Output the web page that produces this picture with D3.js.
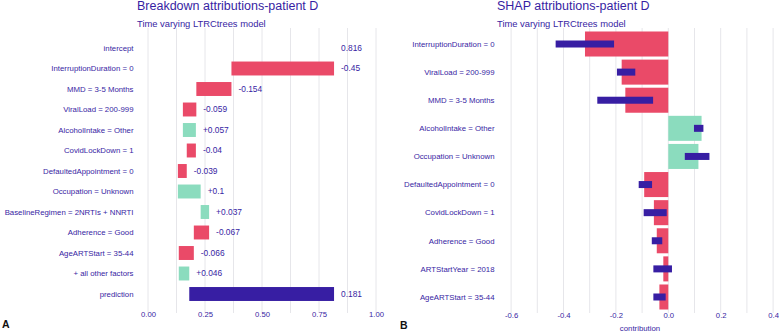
<!DOCTYPE html>
<html>
<head>
<meta charset="utf-8">
<script src="https://cdn.jsdelivr.net/npm/d3@7"></script>
<style>
  body { margin: 0; background: #fff; }
  text { font-family: "Liberation Sans", Arial, Helvetica, sans-serif; }
</style>
</head>
<body>
<div id="chart"></div>
<script>
(function() {
    let w = 779, h = 332

    // Breakdown panel (A)
    let bdLabels = ["intercept", "InterruptionDuration = 0", "MMD = 3-5 Months", "ViralLoad = 200-999",
        "AlcoholIntake = Other", "CovidLockDown = 1", "DefaultedAppointment = 0", "Occupation = Unknown",
        "BaselineRegimen = 2NRTIs + NNRTI", "Adherence = Good", "AgeARTStart = 35-44",
        "+ all other factors", "prediction"]
    let bdValues = [0.816, -0.45, -0.154, -0.059, 0.057, -0.04, -0.039, 0.1, 0.037, -0.067, -0.066, 0.046]
    let bdTicks = [0, 0.25, 0.5, 0.75, 1]

    // SHAP panel (B)
    let shapLabels = ["InterruptionDuration = 0", "ViralLoad = 200-999", "MMD = 3-5 Months",
        "AlcoholIntake = Other", "Occupation = Unknown", "DefaultedAppointment = 0", "CovidLockDown = 1",
        "Adherence = Good", "ARTStartYear = 2018", "AgeARTStart = 35-44"]
    let shapMean = [-0.318, -0.178, -0.164, 0.127, 0.115, -0.092, -0.055, -0.044, -0.019, -0.034]
    let shapBoxLow = [-0.43, -0.196, -0.271, 0.098, 0.063, -0.113, -0.094, -0.063, -0.057, -0.057]
    let shapBoxHigh = [-0.207, -0.126, -0.058, 0.134, 0.157, -0.062, -0.006, -0.023, 0.014, -0.01]
    let shapTicks = [-0.6, -0.4, -0.2, 0, 0.2, 0.4]

    let purple = "#371ea3", red = "#ea4a68", green = "#8bdcbe", grid = "#e6e6ea"

    let loc = d3.formatLocale({decimal: ".", thousands: ",", grouping: [3], currency: ["", ""], minus: "-"})
    let fmtSigned = loc.format("+.3~f")
    let fmtPlain = loc.format(".3~f")

    let svg = d3.select("#chart")
                .append("svg")
                .attr("width", w)
                .attr("height", h)

    svg.append("rect").attr("width", w).attr("height", h).attr("fill", "#fff")

    // ---------- panel A ----------
    let xA = d3.scaleLinear().domain([0, 1]).range([148, 376])
    let yA = d3.scaleBand().domain(bdLabels).range([37.75, 304.25]).paddingInner(0.32).paddingOuter(0.16)

    // build waterfall rows from the values
    let cum = bdValues[0]
    let rowsA = [{label: bdLabels[0], start: cum, end: cum, kind: "intercept", text: fmtPlain(cum)}]
    bdValues.slice(1).forEach((v, i) => {
        rowsA.push({label: bdLabels[i + 1], start: cum, end: cum + v,
                    kind: v < 0 ? "neg" : "pos", text: fmtSigned(v)})
        cum += v
    })
    rowsA.push({label: "prediction", start: bdValues[0], end: cum, kind: "pred", text: fmtPlain(cum)})

    let gA = svg.append("g")

    gA.selectAll("line.grid")
      .data(d3.range(0, 1.0001, 0.125))
      .enter()
      .append("line")
      .attr("class", "grid")
      .attr("x1", d => xA(d)).attr("x2", d => xA(d))
      .attr("y1", 28).attr("y2", 313)
      .attr("stroke", grid).attr("stroke-width", 1)

    gA.selectAll("rect.bar")
      .data(rowsA.filter(d => d.kind != "intercept"))
      .enter()
      .append("rect")
      .attr("class", "bar")
      .attr("x", d => xA(Math.min(d.start, d.end)))
      .attr("width", d => Math.abs(xA(d.end) - xA(d.start)))
      .attr("y", d => yA(d.label))
      .attr("height", yA.bandwidth())
      .attr("fill", d => d.kind == "pred" ? purple : d.kind == "neg" ? red : green)

    gA.selectAll("text.val")
      .data(rowsA)
      .enter()
      .append("text")
      .attr("class", "val")
      .text(d => d.text)
      .attr("x", d => xA(Math.max(d.start, d.end)) + 7)
      .attr("y", d => yA(d.label) + yA.bandwidth() / 2)
      .attr("dy", "0.35em")
      .attr("font-size", 8.4)
      .attr("fill", purple)

    gA.selectAll("text.lab")
      .data(bdLabels)
      .enter()
      .append("text")
      .attr("class", "lab")
      .text(d => d)
      .attr("x", 133.5)
      .attr("y", d => yA(d) + yA.bandwidth() / 2)
      .attr("dy", "0.35em")
      .attr("text-anchor", "end")
      .attr("font-size", 7.8)
      .attr("fill", purple)

    let axA = gA.append("g")
      .attr("transform", "translate(0,312)")
      .call(d3.axisBottom(xA).tickValues(bdTicks).tickFormat(d3.format(".2f")).tickSize(0).tickPadding(0))
    axA.select(".domain").remove()
    axA.selectAll("text").attr("font-size", 7.7).attr("fill", purple).attr("font-family", null)

    gA.append("text").text("Breakdown attributions-patient D")
      .attr("x", 137).attr("y", 10).attr("font-size", 12.5).attr("fill", purple)
    gA.append("text").text("Time varying LTRCtrees model")
      .attr("x", 137).attr("y", 26.5).attr("font-size", 9.4).attr("fill", purple)
    gA.append("text").text("A")
      .attr("x", 2).attr("y", 328).attr("font-size", 10.5).attr("font-weight", "bold").attr("fill", "#111")

    // ---------- panel B ----------
    let xB = d3.scaleLinear().domain([0, 0.2]).range([668.3, 720.7])
    let yB = d3.scaleBand().domain(shapLabels).range([29.95, 311.05]).paddingInner(0.11).paddingOuter(0.055)

    let rowsB = shapLabels.map((l, i) => ({label: l, mean: shapMean[i], lo: shapBoxLow[i], hi: shapBoxHigh[i]}))

    let gB = svg.append("g")

    gB.selectAll("line.grid")
      .data(d3.range(-0.6, 0.4001, 0.1))
      .enter()
      .append("line")
      .attr("class", "grid")
      .attr("x1", d => xB(d)).attr("x2", d => xB(d))
      .attr("y1", 28).attr("y2", 313)
      .attr("stroke", grid).attr("stroke-width", 1)

    gB.selectAll("rect.bar")
      .data(rowsB)
      .enter()
      .append("rect")
      .attr("class", "bar")
      .attr("x", d => xB(Math.min(0, d.mean)))
      .attr("width", d => Math.abs(xB(d.mean) - xB(0)))
      .attr("y", d => yB(d.label))
      .attr("height", yB.bandwidth())
      .attr("fill", d => d.mean < 0 ? red : green)

    let boxH = 7
    gB.selectAll("rect.box")
      .data(rowsB)
      .enter()
      .append("rect")
      .attr("class", "box")
      .attr("x", d => xB(d.lo))
      .attr("width", d => xB(d.hi) - xB(d.lo))
      .attr("y", d => yB(d.label) + yB.bandwidth() / 2 - boxH / 2)
      .attr("height", boxH)
      .attr("fill", purple)

    gB.selectAll("text.lab")
      .data(shapLabels)
      .enter()
      .append("text")
      .attr("class", "lab")
      .text(d => d)
      .attr("x", 494.5)
      .attr("y", d => yB(d) + yB.bandwidth() / 2)
      .attr("dy", "0.35em")
      .attr("text-anchor", "end")
      .attr("font-size", 7.8)
      .attr("fill", purple)

    let axB = gB.append("g")
      .attr("transform", "translate(0,313)")
      .call(d3.axisBottom(xB).tickValues(shapTicks).tickFormat(loc.format(".1f")).tickSize(0).tickPadding(0))
    axB.select(".domain").remove()
    axB.selectAll("text").attr("font-size", 7.7).attr("fill", purple).attr("font-family", null)

    gB.append("text").text("contribution")
      .attr("x", 640).attr("y", 331).attr("text-anchor", "middle").attr("font-size", 7.8).attr("fill", purple)
    gB.append("text").text("SHAP attributions-patient D")
      .attr("x", 497).attr("y", 10).attr("font-size", 12.5).attr("fill", purple)
    gB.append("text").text("Time varying LTRCtrees model")
      .attr("x", 497).attr("y", 26.5).attr("font-size", 9.4).attr("fill", purple)
    gB.append("text").text("B")
      .attr("x", 400).attr("y", 329).attr("font-size", 10.5).attr("font-weight", "bold").attr("fill", "#111")
})()
</script>
</body>
</html>
